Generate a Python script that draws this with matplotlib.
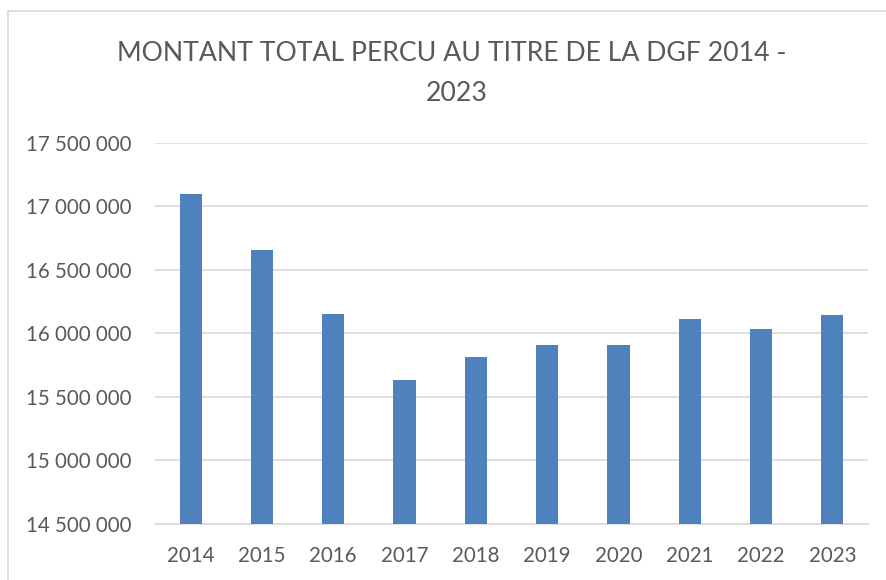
import matplotlib.pyplot as plt
from matplotlib.patches import Rectangle
from matplotlib.ticker import FuncFormatter

# montant DGF par annee
years = ['2014', '2015', '2016', '2017', '2018', '2019', '2020', '2021', '2022', '2023']
montants = [17100000, 16660000, 16155000, 15633000, 15812000, 15906000, 15906000, 16116000, 16035000, 16142000]
yticks = [14500000, 15000000, 15500000, 16000000, 16500000, 17000000, 17500000]

plt.rcParams['font.family'] = ['Lato', 'DejaVu Sans']
txt = '#595959'
grid = '#d9d9d9'

W, H = 887, 580
fig = plt.figure(figsize=(W / 100, H / 100), dpi=100)
ax = fig.add_axes([155 / W, 1 - 523.5 / H, (868 - 155) / W, (523.5 - 143) / H])

ax.bar(range(len(years)), montants, width=0.31, color='#4F81BD', zorder=3)
ax.set_xlim(-0.5, len(years) - 0.5)
ax.set_ylim(yticks[0], yticks[-1])
ax.set_yticks(yticks)
ax.yaxis.set_major_formatter(FuncFormatter(lambda v, p: f'{int(v):,}'.replace(',', ' ')))
ax.set_xticks(range(len(years)))
ax.set_xticklabels(years)
ax.grid(axis='y', color=grid, lw=1.2, zorder=0)
for s in ['top', 'right', 'left']:
    ax.spines[s].set_visible(False)
ax.spines['bottom'].set_color(grid)
ax.spines['bottom'].set_linewidth(1.2)
ax.tick_params(axis='both', length=0, colors=txt, labelsize=14.8)
ax.tick_params(axis='y', pad=17)
ax.tick_params(axis='x', pad=16)

fig.text(452 / W, 1 - 61 / H, 'MONTANT TOTAL PERCU AU TITRE DE LA DGF 2014 -',
         ha='center', va='baseline', fontsize=19.2, color=txt)
fig.text(457 / W, 1 - 101 / H, '2023', ha='center', va='baseline', fontsize=19.2, color=txt)

fig.patches.append(Rectangle((8 / W, -0.1), 1.2, 1 - 11 / H + 0.1, transform=fig.transFigure,
                             fill=False, edgecolor=grid, lw=1.2))

fig.savefig('out.png', dpi=100)
